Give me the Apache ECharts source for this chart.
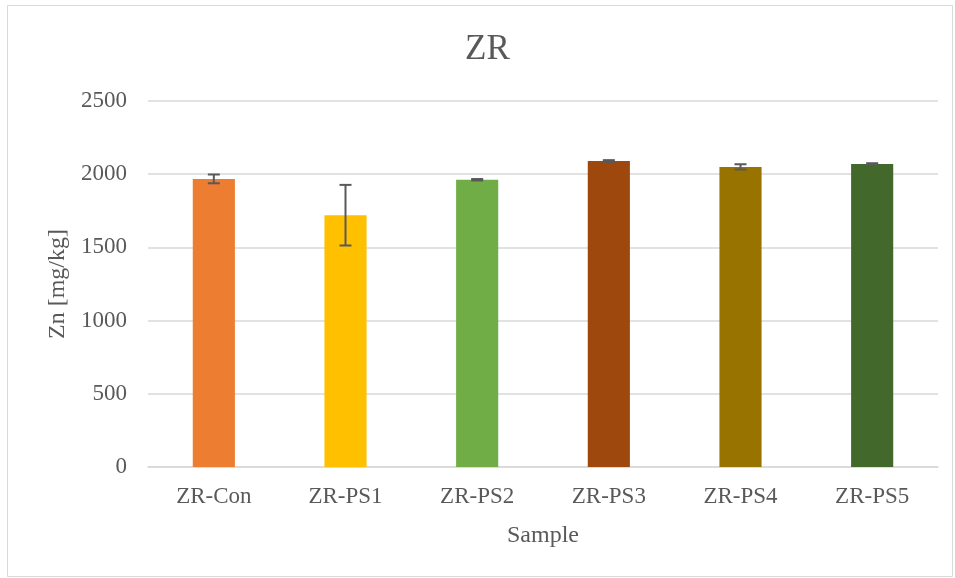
<!DOCTYPE html>
<html>
<head>
<meta charset="utf-8">
<script src="https://cdn.jsdelivr.net/npm/echarts@6/dist/echarts.min.js"></script>
<style>
html,body{margin:0;padding:0;background:#fff;}
#chart{width:955px;height:578px;}
</style>
</head>
<body>
<div id="chart"></div>
<script>
var categories = ['ZR-Con', 'ZR-PS1', 'ZR-PS2', 'ZR-PS3', 'ZR-PS4', 'ZR-PS5'];
var values = [1968, 1720, 1962, 2090, 2050, 2070];
var errors = [30, 207, 5, 6, 18, 5];
var colors = ['#ED7D31', '#FFC000', '#70AD47', '#9E480E', '#997300', '#43682B'];
var yTicks = [0, 500, 1000, 1500, 2000, 2500];

var FONT = '"Liberation Serif", "Times New Roman", serif';
var chart = echarts.init(document.getElementById('chart'), null, {renderer: 'canvas'});

var barData = values.map(function (v, i) {
  return {value: v, itemStyle: {color: colors[i]}};
});
var errData = values.map(function (v, i) {
  return [i, v - errors[i], v + errors[i]];
});

chart.setOption({
  animation: false,
  backgroundColor: '#fff',
  graphic: [{
    type: 'rect',
    shape: {x: 7.5, y: 5.5, width: 945, height: 571},
    style: {fill: 'none', stroke: '#d9d9d9', lineWidth: 1},
    silent: true
  }],
  title: {
    text: 'ZR',
    left: 460,
    top: 27,
    textStyle: {fontFamily: FONT, fontSize: 35, fontWeight: 'normal', color: '#595959'}
  },
  grid: {left: 148, right: 17, top: 101, bottom: 111, containLabel: false},
  xAxis: {
    type: 'category',
    data: categories,
    name: 'Sample',
    nameLocation: 'middle',
    nameGap: 57,
    nameTextStyle: {fontFamily: FONT, fontSize: 24, color: '#595959'},
    axisLine: {show: true, lineStyle: {color: '#d9d9d9', width: 1.5}},
    axisTick: {show: false},
    axisLabel: {fontFamily: FONT, fontSize: 23, color: '#595959', margin: 18}
  },
  yAxis: {
    type: 'value',
    min: yTicks[0],
    max: yTicks[yTicks.length - 1],
    interval: 500,
    name: 'Zn [mg/kg]',
    nameLocation: 'middle',
    nameGap: 78,
    nameTextStyle: {fontFamily: FONT, fontSize: 24, color: '#595959'},
    axisLine: {show: false},
    axisTick: {show: false},
    splitLine: {lineStyle: {color: '#d9d9d9', width: 1.5}},
    axisLabel: {fontFamily: FONT, fontSize: 23, color: '#595959', margin: 21,
      formatter: function (v) { return String(v); }}
  },
  series: [{
    type: 'bar',
    data: barData,
    barWidth: '32%'
  }, {
    type: 'custom',
    data: errData,
    z: 10,
    renderItem: function (params, api) {
      var x = api.value(0);
      var lo = api.coord([x, api.value(1)]);
      var hi = api.coord([x, api.value(2)]);
      var hw = 6;
      var st = {stroke: '#595959', lineWidth: 2};
      return {
        type: 'group',
        children: [
          {type: 'line', shape: {x1: hi[0], y1: hi[1], x2: lo[0], y2: lo[1]}, style: st},
          {type: 'line', shape: {x1: hi[0] - hw, y1: hi[1], x2: hi[0] + hw, y2: hi[1]}, style: st},
          {type: 'line', shape: {x1: lo[0] - hw, y1: lo[1], x2: lo[0] + hw, y2: lo[1]}, style: st}
        ]
      };
    }
  }]
});
</script>
</body>
</html>
